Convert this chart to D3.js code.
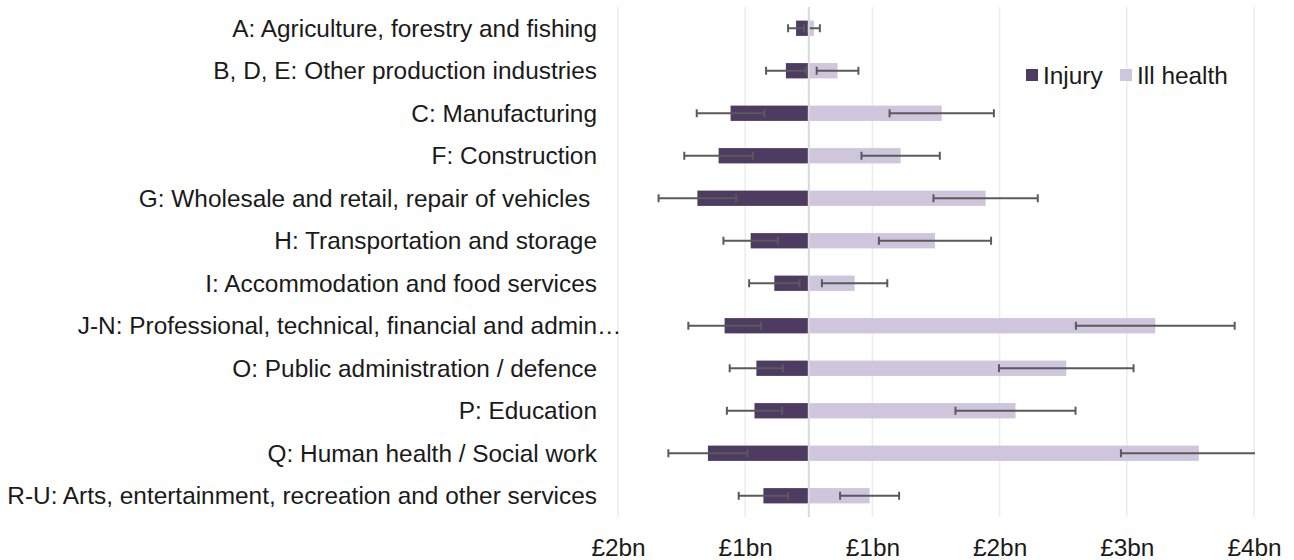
<!DOCTYPE html>
<html>
<head>
<meta charset="utf-8">
<script src="https://cdn.jsdelivr.net/npm/d3@7"></script>
<style>
  html, body { margin: 0; padding: 0; background: #ffffff; }
  svg { display: block; font-family: "Liberation Sans", Arial, sans-serif; }
  text { white-space: pre; }
</style>
</head>
<body>
<svg id="chart" width="1294" height="560"></svg>
<script>
// Industry sectors, top to bottom
const categories = [
  "A: Agriculture, forestry and fishing",
  "B, D, E: Other production industries",
  "C: Manufacturing",
  "F: Construction",
  "G: Wholesale and retail, repair of vehicles ",
  "H: Transportation and storage",
  "I: Accommodation and food services",
  "J-N: Professional, technical, financial and admin",
  "O: Public administration / defence",
  "P: Education",
  "Q: Human health / Social work",
  "R-U: Arts, entertainment, recreation and other services"
];
// Costs in £bn
const injury      = [0.10, 0.18, 0.615, 0.709, 0.876, 0.457, 0.271, 0.662, 0.412, 0.427, 0.793, 0.357];
const injuryErr   = [0.063, 0.156, 0.266, 0.27, 0.305, 0.214, 0.198, 0.285, 0.21, 0.217, 0.311, 0.194];
const illHealth   = [0.04, 0.226, 1.045, 0.722, 1.39, 0.992, 0.36, 2.724, 2.024, 1.625, 3.066, 0.478];
const illErr      = [0.047, 0.164, 0.41, 0.308, 0.41, 0.441, 0.257, 0.624, 0.529, 0.472, 0.612, 0.232];
// Axis bounds and tick positions (£bn)
const axisMin = -1.5, axisMax = 3.5;
const tickValues = [-1.5, -0.5, 0.5, 1.5, 2.5, 3.5];
const seriesNames = ["Injury", "Ill health"];

const colInjury = "#4e3b62";
const colIll = "#cfc5dc";
const colErr = "#5a5a5a";
const fontSize = 24.4;

const svg = d3.select("#chart");
const plot = { left: 618, right: 1254, top: 7, bottom: 517 };

const x = d3.scaleLinear().domain([axisMin, axisMax]).range([plot.left, plot.right]);
const y = d3.scaleBand().domain(categories).range([plot.top, plot.bottom]).paddingInner(0.64).paddingOuter(0.32);

svg.append("defs").append("clipPath").attr("id", "plotclip")
  .append("rect").attr("x", plot.left).attr("y", plot.top)
  .attr("width", plot.right - plot.left + 1).attr("height", plot.bottom - plot.top);

// Vertical gridlines
svg.append("g").selectAll("line").data(tickValues).join("line")
  .attr("x1", d => x(d)).attr("x2", d => x(d))
  .attr("y1", plot.top).attr("y2", plot.bottom)
  .attr("stroke", "#ececec").attr("stroke-width", 1.5);

// Tick labels: absolute value, rounded to whole £bn
const xAxis = d3.axisBottom(x).tickValues(tickValues).tickSize(0)
  .tickFormat(d => "£" + Math.round(Math.abs(d)) + "bn");
const gx = svg.append("g").attr("transform", `translate(0,${plot.bottom})`).call(xAxis);
gx.select(".domain").remove();
gx.selectAll("text").attr("font-size", fontSize).attr("fill", "#1a1a1a")
  .attr("font-family", "Liberation Sans, Arial, sans-serif").attr("dy", null).attr("y", 39);

const body = svg.append("g").attr("clip-path", "url(#plotclip)");
const yc = d => y(d) + y.bandwidth() / 2;

// Injury bars (to the left of zero)
body.append("g").selectAll("rect").data(categories).join("rect")
  .attr("x", (d, i) => x(-injury[i])).attr("y", d => y(d))
  .attr("width", (d, i) => x(0) - x(-injury[i])).attr("height", y.bandwidth())
  .attr("fill", colInjury);

// Ill health bars (to the right of zero)
body.append("g").selectAll("rect").data(categories).join("rect")
  .attr("x", x(0)).attr("y", d => y(d))
  .attr("width", (d, i) => x(illHealth[i]) - x(0)).attr("height", y.bandwidth())
  .attr("fill", colIll);

// Zero line
svg.append("line").attr("x1", x(0)).attr("x2", x(0))
  .attr("y1", plot.top).attr("y2", plot.bottom)
  .attr("stroke", "#d9d9d9").attr("stroke-width", 2);

// Error bars
function errorBars(values, errs, sign) {
  const g = body.append("g").attr("stroke", colErr).attr("stroke-width", 2);
  categories.forEach((c, i) => {
    const lo = x(sign * values[i] - errs[i]);
    const hi = x(sign * values[i] + errs[i]);
    const cy = yc(c);
    g.append("line").attr("x1", lo).attr("x2", hi).attr("y1", cy).attr("y2", cy);
    g.append("line").attr("x1", lo).attr("x2", lo).attr("y1", cy - 4).attr("y2", cy + 4);
    g.append("line").attr("x1", hi).attr("x2", hi).attr("y1", cy - 4).attr("y2", cy + 4);
  });
}
errorBars(injury, injuryErr, -1);
errorBars(illHealth, illErr, 1);

// Category labels
const labels = svg.append("g").attr("font-size", fontSize).attr("fill", "#1a1a1a");
labels.selectAll("text").data(categories).join("text")
  .attr("x", 597).attr("y", d => yc(d)).attr("dy", "0.35em")
  .attr("text-anchor", "end").text(d => d);
// Truncated label gets an ellipsis
labels.append("text").attr("x", 597).attr("y", yc(categories[7])).attr("dy", "0.35em")
  .text("…");

// Legend
const legend = svg.append("g").attr("font-size", fontSize).attr("fill", "#1a1a1a");
const legendItems = [
  { name: seriesNames[0], color: colInjury, x: 1026 },
  { name: seriesNames[1], color: colIll, x: 1120 }
];
legendItems.forEach(it => {
  legend.append("rect").attr("x", it.x).attr("y", 69).attr("width", 12).attr("height", 12).attr("fill", it.color);
  legend.append("text").attr("x", it.x + 17).attr("y", 75).attr("dy", "0.35em").text(it.name);
});
</script>
</body>
</html>
